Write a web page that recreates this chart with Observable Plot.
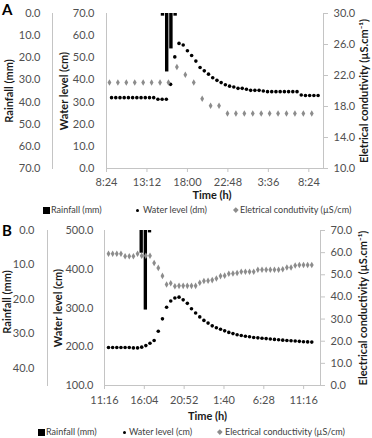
<!DOCTYPE html>
<html><head><meta charset="utf-8">
<script src="https://cdn.jsdelivr.net/npm/d3@7"></script>
<script src="https://cdn.jsdelivr.net/npm/@observablehq/plot@0.6"></script>
<style>
body{margin:0;background:#fff;}
#root{position:relative;width:372px;height:438px;font-family:Lato,sans-serif;overflow:hidden;background:#fff}
.panel{position:absolute;left:0;width:372px;height:200px}
.panel svg{position:absolute;left:0;top:0;overflow:visible;background:transparent}
.tag{position:absolute;font:bold 15px/15px Lato,sans-serif;color:#000}
.legend{position:absolute;left:0;width:372px;height:12px;font:9px/12px Lato,sans-serif;color:#404040}
.legend span{position:absolute;top:0;white-space:nowrap}
.sq{display:block;width:7px;height:7px;background:#000;margin-top:2.5px}
.dt{display:block;width:3.5px;height:3.5px;border-radius:50%;background:#000;margin-top:4.5px}
.dm{display:block;width:3.6px;height:3.6px;background:#8c8c8c;transform:rotate(45deg);margin-top:4.2px}
</style></head><body><div id="root"></div>
<script>
// ---------- Panel A data ----------
const aTickHours  = [8.4, 13.2, 18.0, 22.8, 27.6, 32.4];
const aTickLabels = ["8:24","13:12","18:00","22:48","3:36","8:24"];
const aRainHours  = [14.85, 15.35, 15.85, 16.35];
const aRainMm     = [1.2, 26.4, 16.0, 1.2];
const aWaterHours = [9.0,9.5,10.0,10.5,11.0,11.5,12.0,12.5,13.0,13.5,14.0,14.5,15.0,15.5,16.0,16.5,17.0,17.5,18.0,18.5,
                     19.0,19.5,20.0,20.5,21.0,21.5,22.0,22.5,23.0,23.5,24.0,24.5,25.0,25.5,26.0,26.5,27.0,27.5,28.0,28.5,
                     29.0,29.5,30.0,30.5,31.0,31.5,32.0,32.5,33.0,33.5];
const aWaterCm    = [32.0,32.0,32.0,32.0,32.0,32.0,32.0,32.0,32.0,32.0,32.0,31.3,31.3,31.3,38.0,50.4,56.5,55.8,53.2,51.0,
                     48.5,45.6,44.1,42.6,41.0,39.8,38.8,37.8,37.2,36.8,36.2,36.2,35.8,35.3,35.3,35.3,35.0,34.7,34.7,34.7,
                     34.7,34.7,34.7,34.7,34.7,33.2,33.0,33.0,33.0,33.0];
const aEcHours    = [8.75,9.75,10.75,11.75,12.75,13.75,14.75,15.75,16.75,17.75,18.75,19.75,20.75,21.75,22.75,23.75,
                     24.75,25.75,26.75,27.75,28.75,29.75,30.75,31.75,32.75];
const aEcValues   = [21.1,21.1,21.1,21.1,21.1,21.1,21.1,21.1,23.1,22.1,21.1,19.0,18.1,18.1,17.1,17.1,
                     17.1,17.1,17.1,17.1,17.1,17.1,17.1,17.1,17.1];
const aRainTicks  = [0,10,20,30,40,50,60,70];
const aWaterTicks = [0,10,20,30,40,50,60,70];
const aEcTicks    = [10,14,18,22,26,30];

// ---------- Panel B data ----------
const bTickHours  = [11.2667, 16.0667, 20.8667, 25.6667, 30.4667, 35.2667];
const bTickLabels = ["11:16","16:04","20:52","1:40","6:28","11:16"];
const bRainHours  = [15.5, 16.0, 16.5];
const bRainMm     = [6.6, 23.1, 0.7];
const bHours      = [11.75,12.25,12.75,13.25,13.75,14.25,14.75,15.25,15.75,16.25,16.75,17.25,17.75,18.25,18.75,19.25,
                     19.75,20.25,20.75,21.25,21.75,22.25,22.75,23.25,23.75,24.25,24.75,25.25,25.75,26.25,26.75,27.25,
                     27.75,28.25,28.75,29.25,29.75,30.25,30.75,31.25,31.75,32.25,32.75,33.25,33.75,34.25,34.75,35.25,
                     35.75,36.25];
const bWaterCm    = [198,198,198,198,198,198,197,197,199,203,209,216,240,272,302,318,326,328,321,312,
                     298,287,277,268,261,254,249,245,241,237,234,231,229,227,226,224,223,222,221,220,
                     219,218,217,216,215.5,215,214,213,212.5,212];
const bEcValues   = [59.5,59.5,59.5,59.5,58.4,58.4,58.4,59.5,58.6,58.6,58.6,55.3,53.1,49.5,45.6,46.2,44.8,45.0,45.0,45.0,
                     45.0,45.0,46.4,47.2,47.3,47.6,48.3,49.4,49.6,50.5,50.6,50.8,51.4,51.4,51.4,51.4,52.3,52.3,52.3,52.3,
                     52.3,52.3,52.5,53.3,53.3,54.2,54.4,54.4,54.4,54.4];
const bRainTicks  = [0,10,20,30,40];
const bWaterTicks = [100,200,300,400,500];
const bEcTicks    = [0,10,20,30,40,50,60,70];

const rainBin = 0.5;
const axisGray = "#c4c4c4";
const tickText = "#505050";
const titleCol = "#1a1a1a";
const ecGray = "#8c8c8c";

const root = document.getElementById("root");

function fmt1(d){ return d.toFixed(1); }

function makePanel(cfg){
  const div = document.createElement("div");
  div.className = "panel";
  div.style.top = cfg.top + "px";
  root.appendChild(div);
  const common = {
    width: 372, height: 200, marginTop: 13, marginBottom: 32,
    marginLeft: cfg.marginLeft, marginRight: cfg.marginRight,
    style: {fontFamily: "Lato, sans-serif", fontSize: "11px", color: tickText, overflow: "visible", background: "transparent"},
    x: {domain: cfg.xDomain, axis: null}
  };
  const rightEdge = 372 - cfg.marginRight;
  const rainRows = cfg.rainHours.map((t, i) => ({t, t2: t + rainBin, v: cfg.rainMm[i]}));
  const waterRows = cfg.waterHours.map((t, i) => ({t, v: cfg.waterVals[i]}));
  const ecRows = cfg.ecHours.map((t, i) => ({t, v: cfg.ecVals[i]}));
  const titleStyle = {rotate: -90, fontWeight: "bold", fill: titleCol, fontSize: 11, textAnchor: "middle", lineAnchor: "middle"};

  const rain = Plot.plot({...common,
    y: {domain: cfg.rainDomain, reverse: true, axis: null},
    marks: [
      Plot.frame({anchor: "left", insetLeft: cfg.rainDx, stroke: axisGray}),
      Plot.axisY({anchor: "left", dx: cfg.rainDx, tickSize: 0, tickPadding: cfg.rainPad, ticks: cfg.rainTicks,
                  tickFormat: fmt1, fill: tickText, label: null}),
      Plot.rect(rainRows, {x1: "t", x2: "t2", y1: 0, y2: "v", fill: "#000", insetLeft: 0.4, insetRight: 0.4}),
      Plot.text([cfg.rainTitle], {frameAnchor: "left", dx: cfg.rainTitleX - cfg.marginLeft, dy: cfg.rainTitleDy, ...titleStyle})
    ]});
  const water = Plot.plot({...common,
    y: {domain: cfg.waterDomain, axis: null},
    marks: [
      Plot.frame({anchor: "left", stroke: axisGray}),
      Plot.frame({anchor: "bottom", stroke: axisGray}),
      Plot.axisY({anchor: "left", tickSize: 0, tickPadding: cfg.waterPad, ticks: cfg.waterTicks,
                  tickFormat: fmt1, fill: tickText, label: null}),
      Plot.axisX({anchor: "bottom", ticks: cfg.tickHours, tickFormat: d => cfg.tickLabels[cfg.tickHours.indexOf(d)],
                  tickSize: 4, tickPadding: cfg.xPad, stroke: axisGray, fill: tickText, label: null}),
      Plot.dot(waterRows, {x: "t", y: "v", r: 1.8, fill: "#000", stroke: "none"}),
      Plot.text([cfg.timeTitle], {frameAnchor: "bottom", dx: cfg.timeDx, dy: cfg.timeDy, lineAnchor: "middle", textAnchor: "middle",
                                  fontWeight: "bold", fill: titleCol, fontSize: 11}),
      Plot.text([cfg.waterTitle], {frameAnchor: "left", dx: cfg.waterTitleX - cfg.marginLeft, ...titleStyle})
    ]});
  const ec = Plot.plot({...common,
    y: {domain: cfg.ecDomain, axis: null},
    marks: [
      Plot.frame({anchor: "right", stroke: axisGray}),
      Plot.axisY({anchor: "right", ticks: cfg.ecTicks, tickSize: 4, tickPadding: 6, stroke: axisGray, fill: tickText,
                  tickFormat: fmt1, label: null}),
      Plot.dot(ecRows, {x: "t", y: "v", symbol: "diamond", r: 2, fill: ecGray, stroke: "none"}),
      Plot.text([cfg.ecTitle], {frameAnchor: "right", dx: cfg.ecTitleX - rightEdge, ...titleStyle})
    ]});
  for (const svg of [rain, water, ec]) div.appendChild(svg);

  const tag = document.createElement("div");
  tag.className = "tag";
  tag.textContent = cfg.tag;
  tag.style.left = cfg.tagLeft + "px";
  tag.style.top = (cfg.top + cfg.tagTop) + "px";
  root.appendChild(tag);

  const lg = document.createElement("div");
  lg.className = "legend";
  lg.style.top = cfg.legendTop + "px";
  const items = [
    ["sq", cfg.lg[0], cfg.lgText[0], cfg.lg[1]],
    ["dt", cfg.lg[2], cfg.lgText[1], cfg.lg[3]],
    ["dm", cfg.lg[4], cfg.lgText[2], cfg.lg[5]]
  ];
  for (const [cls, mx, txt, tx] of items) {
    const m = document.createElement("span");
    m.className = cls; m.style.left = mx + "px";
    lg.appendChild(m);
    const t = document.createElement("span");
    t.textContent = txt; t.style.left = tx + "px";
    lg.appendChild(t);
  }
  root.appendChild(lg);
}

makePanel({
  top: 0, tag: "A", tagLeft: 2, tagTop: 1.5,
  marginLeft: 106, marginRight: 49, xDomain: [8.4, 34.14],
  tickHours: aTickHours, tickLabels: aTickLabels, xPad: 6,
  rainDomain: [0, 70], rainTicks: aRainTicks, rainDx: -54, rainPad: 12,
  rainHours: aRainHours, rainMm: aRainMm,
  waterDomain: [0, 70], waterTicks: aWaterTicks, waterPad: 12,
  waterHours: aWaterHours, waterVals: aWaterCm,
  ecDomain: [10, 30], ecTicks: aEcTicks, ecHours: aEcHours, ecVals: aEcValues,
  rainTitle: "Rainfall (mm)", rainTitleX: 9, rainTitleDy: 0,
  waterTitle: "Water level (cm)", waterTitleX: 64,
  ecTitle: "Eletrical condutivity (µS.cm⁻¹)", ecTitleX: 364,
  timeTitle: "Time (h)", timeDx: -3, timeDy: 27,
  legendTop: 204, lg: [43, 51, 135.5, 143, 233.5, 240],
  lgText: ["Rainfall (mm)", "Water level (dm)", "Eletrical condutivity (µS/cm)"]
});

makePanel({
  top: 216.5, tag: "B", tagLeft: 2, tagTop: 6,
  marginLeft: 104, marginRight: 52, xDomain: [11.2667, 37.3],
  tickHours: bTickHours, tickLabels: bTickLabels, xPad: 7,
  rainDomain: [0, 45], rainTicks: bRainTicks, rainDx: -57, rainPad: 13,
  rainHours: bRainHours, rainMm: bRainMm,
  waterDomain: [100, 500], waterTicks: bWaterTicks, waterPad: 11,
  waterHours: bHours, waterVals: bWaterCm,
  ecDomain: [0, 70], ecTicks: bEcTicks, ecHours: bHours, ecVals: bEcValues,
  rainTitle: "Rainfall (mm)", rainTitleX: 7, rainTitleDy: -6,
  waterTitle: "Water level (cm)", waterTitleX: 58,
  ecTitle: "Electrical conductivity (µS.cm⁻¹)", ecTitleX: 363,
  timeTitle: "Time (h)", timeDx: -5, timeDy: 31,
  legendTop: 426, lg: [38, 46, 122.5, 129, 218.2, 225],
  lgText: ["Rainfall (mm)", "Water level (cm)", "Electrical conductivity (µS/cm)"]
});
</script></body></html>
